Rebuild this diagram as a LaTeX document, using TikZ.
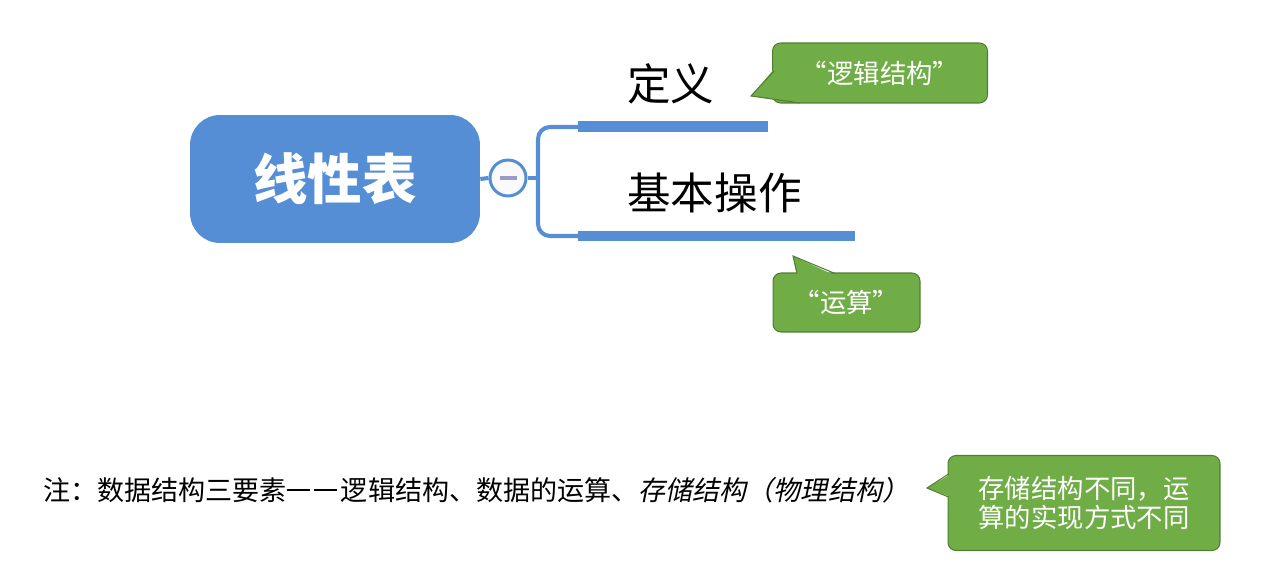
\documentclass[tikz,border=0pt]{standalone}
\usepackage{fontspec}
\setmainfont{Liberation Sans}
\newfontfamily\cjk{Noto Sans CJK SC}
\newfontfamily\cjkslant[FakeSlant=0.2]{Noto Sans CJK SC}
\usetikzlibrary{positioning}
\definecolor{topicblue}{HTML}{558ED5}
\definecolor{notegreen}{HTML}{70AD47}
\definecolor{noteedge}{HTML}{507E32}
\definecolor{foldmark}{HTML}{9A9ACB}
\newcommand{\longdash}{\rule[0.36em]{0.85em}{0.07em}\hspace{0.15em}\rule[0.36em]{0.85em}{0.07em}\hspace{0.15em}}

\begin{document}
\begin{tikzpicture}[x=0.02cm, y=-0.02cm,
  topic/.style={rectangle, rounded corners=0.6cm, fill=topicblue, text=white,
    minimum width=5.8cm, minimum height=2.56cm, font=\cjk\bfseries\fontsize{31}{31}\selectfont},
  fold/.style={circle, draw=topicblue, line width=1.7pt, fill=gray!4, minimum size=0.72cm, inner sep=0pt},
  branch/.style={draw=topicblue, line width=2.3pt},
  bar/.style={rectangle, fill=topicblue, minimum height=0.22cm, inner sep=0pt, anchor=west},
  leaf/.style={anchor=west, inner sep=0pt, font=\cjk\fontsize{24.8}{25}\selectfont},
  tipbox/.style={rectangle, rounded corners=0.16cm, fill=notegreen, draw=noteedge, line width=0.6pt,
    text=white, align=center, font=\cjk\fontsize{15}{16}\selectfont},
  tail/.style={fill=notegreen},
  tailedge/.style={draw=noteedge, line width=0.6pt},
  note/.style={anchor=west, inner sep=0pt, font=\cjk\fontsize{15.4}{16}\selectfont}
]

  \useasboundingbox (0,0) rectangle (1266,577);

  % Central topic
  \node[topic] (topic) at (335,179) {线性表};
  \node[fold] (fold) at (508,178) {};
  \draw[foldmark, line width=2.2pt] ([xshift=-0.17cm]fold.center) -- ([xshift=0.17cm]fold.center);

  % Branches
  \coordinate (fork) at (538,178);
  \node[bar, minimum width=3.8cm] (defbar) at (578,127) {};
  \node[bar, minimum width=5.54cm] (opsbar) at (578,236) {};
  \draw[branch] (topic.east) -- (fold.west);
  \draw[branch] (fold.east) -- (fork);
  \draw[branch, rounded corners=0.24cm] (defbar.west) -| (fork) |- (opsbar.west);

  \node[leaf] (deftext) at (627,84) {定义};
  \node[leaf] (opstext) at (627,193) {基本操作};

  % Callouts
  \node[tipbox, minimum width=4.3cm, minimum height=1.2cm] (logic) at (880,73) {“逻辑结构”};
  \fill[tail] (775,68) -- (751,96) -- (800,103) -- (800,90) -- cycle;
  \draw[tailedge] (774,71) -- (751,96) -- (800,103);

  \node[tipbox, minimum width=2.94cm, minimum height=1.18cm] (calc) at (846.5,302.5) {“运算”};
  \fill[tail] (797,276) -- (793,256) -- (836,276) -- cycle;
  \draw[tailedge] (797,273.5) -- (793,256) -- (835,273.5);

  \node[tipbox, minimum width=5.44cm, minimum height=1.9cm] (store) at (1084,503)
    {存储结构不同，运\\算的实现方式不同};
  \fill[tail] (951,474) -- (927,488) -- (951,497) -- cycle;
  \draw[tailedge] (948.5,474) -- (927,488) -- (948.5,497);

  % Remark
  \node[note] (remark) at (43,490)
    {注：数据结构三要素\longdash 逻辑结构、数据的运算、{\cjkslant 存储结构（物理结构）}};

\end{tikzpicture}
\end{document}
